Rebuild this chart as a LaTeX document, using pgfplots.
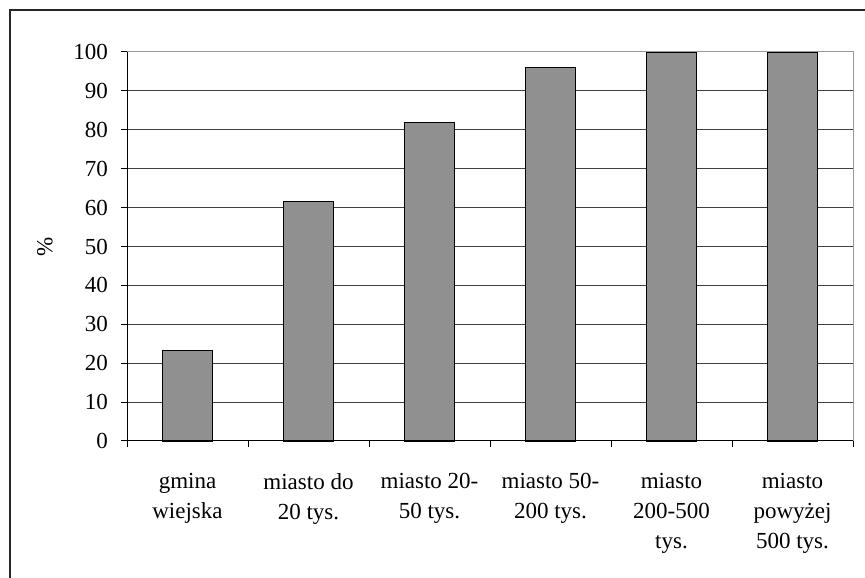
\documentclass[border=0pt]{standalone}
\usepackage{fontspec}
\setmainfont{Liberation Serif}
\usepackage{pgfplots}
\pgfplotsset{compat=1.18}
\definecolor{barg}{RGB}{144,144,144}
\begin{document}
\begin{tikzpicture}[x=1pt,y=1pt]
\useasboundingbox (0,0) rectangle (865,578);
\draw[line width=1.3pt, black!85] (10,0) -- (10,568) -- (865,568);
\begin{axis}[
  at={(127pt,137pt)}, anchor=south west,
  scale only axis, width=726pt, height=389pt,
  xmin=-0.5, xmax=5.5, ymin=0, ymax=100,
  ytick={0,10,...,100},
  xtick={-0.5,0.5,...,5.5}, xticklabels={,,,,,,,},
  extra x ticks={0,1,2,3,4,5},
  extra x tick labels={{gmina\\wiejska},{miasto do\\20 tys.},{miasto 20-\\50 tys.},{miasto 50-\\200 tys.},{miasto\\200-500\\tys.},{miasto\\powyżej\\500 tys.}},
  extra x tick style={major tick length=0pt, grid=none,
    tick label style={align=center, anchor=north, inner sep=0pt, yshift=-32pt}},
  tick align=outside, major tick length=6pt, tick pos=left,
  tick style={black, line width=1pt},
  axis line style={draw=none},
  ymajorgrids, major grid style={black!75, line width=1pt},
  tick label style={font=\fontsize{23}{30}\selectfont},
  yticklabel style={inner sep=0pt, anchor=east, xshift=-13pt},
  /pgf/number format/assume math mode=true,
  ylabel={\%},
  every axis y label/.style={at={(axis description cs:-0.113,0.5)}, anchor=center, rotate=90, font=\fontsize{23}{30}\selectfont},
  ybar, bar width=50pt,
  clip=false,
]
\addplot[fill=barg, draw=black, line width=1.3pt] coordinates {(0,23.2) (1,61.5) (2,81.9) (3,96.0) (4,100) (5,100)};
\draw[black!40, line width=1pt] (rel axis cs:0,1) -- (rel axis cs:1,1) -- (rel axis cs:1,0);
\draw[black, line width=1pt] (rel axis cs:0,1) -- (rel axis cs:0,0) -- (rel axis cs:1,0);
\end{axis}
\end{tikzpicture}
\end{document}
